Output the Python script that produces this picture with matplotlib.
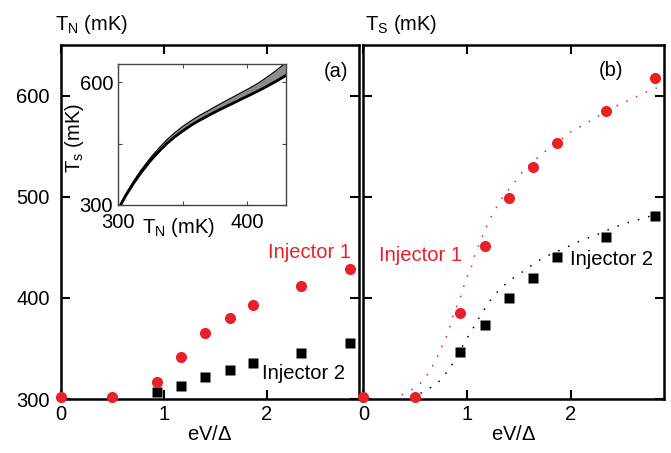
import matplotlib
matplotlib.use("Agg")
import matplotlib.pyplot as plt

plt.rcParams["font.family"] = ["Liberation Sans", "DejaVu Sans"]
plt.rcParams["mathtext.fontset"] = "custom"
plt.rcParams["mathtext.rm"] = "Liberation Sans"
FS = 14.5
plt.rcParams["font.size"] = FS

RED = "#e8202a"

# measured bias points (eV/Delta)
bias = [0, 0.5, 0.93, 1.17, 1.40, 1.64, 1.87, 2.34, 2.81]
bias_hi = [0.93, 1.17, 1.40, 1.64, 1.87, 2.34, 2.81]

# (a) normal metal temperature
tn_inj1 = [302, 302, 317, 342, 365, 380, 393, 412, 429]
tn_inj2 = [307, 313, 321.5, 329, 336, 345, 355]

# (b) superconductor temperature
ts_inj1 = [302, 302, 385, 451, 499, 529, 553, 585, 617.5]
ts_inj2 = [346, 373, 400, 419.5, 440, 460, 481]

# model curves for (b)
model1_v = [0.37, 0.47, 0.56, 0.63, 0.68, 0.73, 0.77, 0.81, 0.84, 0.87, 0.94, 0.97,
            1.00, 1.04, 1.07, 1.14, 1.22, 1.33, 1.47, 1.55, 1.73, 1.925, 2.02, 2.11,
            2.20, 2.48, 2.58, 2.67, 2.83]
model1_t = [304, 309.6, 316.5, 326, 335, 345, 355, 363.7, 373, 384, 402, 412,
            420.5, 430, 441, 459, 478, 497.7, 516, 526.7, 543, 558, 565.7, 570,
            576, 592, 596, 601, 607.6]
model2_v = [0.55, 0.65, 0.75, 0.82, 0.88, 0.98, 1.04, 1.09, 1.15, 1.21, 1.28, 1.38,
            1.47, 1.57, 1.66, 1.76, 1.94, 2.03, 2.13, 2.22, 2.40, 2.51, 2.60, 2.70,
            2.86]
model2_t = [305.6, 311.5, 319, 329, 337.6, 357, 366.6, 376, 386, 395.7, 404.6, 414.5,
            421.5, 428, 435, 441, 449, 453.5, 458, 461, 469, 473, 476, 478.5,
            484]

# inset: T_S vs T_N band (lower and upper edge)
inset_tn = [302, 306, 312, 318, 325, 331, 338, 344, 350, 357, 363, 370, 376,
            383, 389, 396, 402, 409, 415, 422, 430]
inset_lo = [300, 323, 353, 380, 408, 429, 451, 467, 481, 496, 507, 519, 529,
            540, 549, 560, 569, 580, 590, 602, 617]
inset_hi = [303, 327, 358, 386, 415, 437, 460, 477, 492, 507, 519, 531, 542,
            554, 564, 576, 586, 599, 612, 628, 648]

fig = plt.figure(figsize=(6.71, 4.53), dpi=100)
ax_a = fig.add_axes([0.0909, 0.1192, 0.4441, 0.7815])
ax_b = fig.add_axes([0.5417, 0.1192, 0.4479, 0.7815])

for ax in (ax_a, ax_b):
    ax.set_xlim(0, 2.9)
    ax.set_ylim(300, 650)
    ax.set_xticks([0, 1, 2])
    ax.set_yticks([300, 400, 500, 600])
    ax.tick_params(direction="in", length=6.5, width=1.5, top=True, right=True,
                   labelsize=FS)
    ax.tick_params(axis="y", pad=8)
    ax.tick_params(axis="x", pad=4)
    for s in ax.spines.values():
        s.set_linewidth(1.8)
    ax.set_xlabel(r"eV/$\Delta$", fontsize=FS, labelpad=1)
ax_b.set_yticklabels([])

# panel (a)
ax_a.plot(bias_hi, tn_inj2, "s", color="black", ms=7, mec="none", clip_on=False, zorder=3)
ax_a.plot(bias, tn_inj1, "o", color=RED, ms=8, mec="none", clip_on=False, zorder=4)
ax_a.text(0.972, 0.415, "Injector 1", color=RED, ha="right", va="center",
          transform=ax_a.transAxes, fontsize=FS)
ax_a.text(0.675, 0.073, "Injector 2", color="black", ha="left", va="center",
          transform=ax_a.transAxes, fontsize=FS)
ax_a.text(0.923, 0.924, "(a)", ha="center", va="center", transform=ax_a.transAxes,
          fontsize=FS)

# panel (b)
ax_b.plot(model1_v, model1_t, color=RED, lw=1.1, linestyle=(0, (1, 6)))
ax_b.plot(model2_v, model2_t, color="black", lw=1.1, linestyle=(0, (1, 6)))
ax_b.plot(bias_hi, ts_inj2, "s", color="black", ms=7, mec="none", clip_on=False, zorder=3)
ax_b.plot(bias, ts_inj1, "o", color=RED, ms=8, mec="none", clip_on=False, zorder=4)
ax_b.text(0.328, 0.404, "Injector 1", color=RED, ha="right", va="center",
          transform=ax_b.transAxes, fontsize=FS)
ax_b.text(0.687, 0.393, "Injector 2", color="black", ha="left", va="center",
          transform=ax_b.transAxes, fontsize=FS)
ax_b.text(0.824, 0.929, "(b)", ha="center", va="center", transform=ax_b.transAxes,
          fontsize=FS)

fig.text(0.082, 0.934, r"T$_\mathregular{N}$ (mK)", ha="left", va="baseline",
         fontsize=FS)
fig.text(0.544, 0.934, r"T$_\mathregular{S}$ (mK)", ha="left", va="baseline",
         fontsize=FS)

# inset
ax_in = fig.add_axes([0.1759, 0.5475, 0.2503, 0.3112])
ax_in.fill_between(inset_tn, inset_lo, inset_hi, color="#8c8c8c", lw=0)
ax_in.plot(inset_tn, inset_lo, color="black", lw=2.0)
ax_in.plot(inset_tn, inset_hi, color="black", lw=0.9)
ax_in.set_xlim(300, 430)
ax_in.set_ylim(300, 645)
ax_in.set_xticks([300, 350, 400])
ax_in.set_xticklabels(["300", "", "400"])
ax_in.set_yticks([300, 450, 600])
ax_in.set_yticklabels(["300", "", "600"])
ax_in.tick_params(direction="in", length=3, width=0.8, top=True, right=True,
                  labelsize=FS, color="#444444")
ax_in.tick_params(axis="x", pad=5.5)
ax_in.tick_params(axis="y", pad=3.5)
for s in ax_in.spines.values():
    s.set_linewidth(1.0)
    s.set_color("#444444")
ax_in.set_ylabel(r"T$_\mathregular{s}$ (mK)", fontsize=FS)
ax_in.yaxis.set_label_coords(-0.19, 0.475)
ax_in.text(0.141, -0.163, r"T$_\mathregular{N}$ (mK)", ha="left", va="center",
           transform=ax_in.transAxes, fontsize=FS)

fig.savefig("out.png", dpi=100)
